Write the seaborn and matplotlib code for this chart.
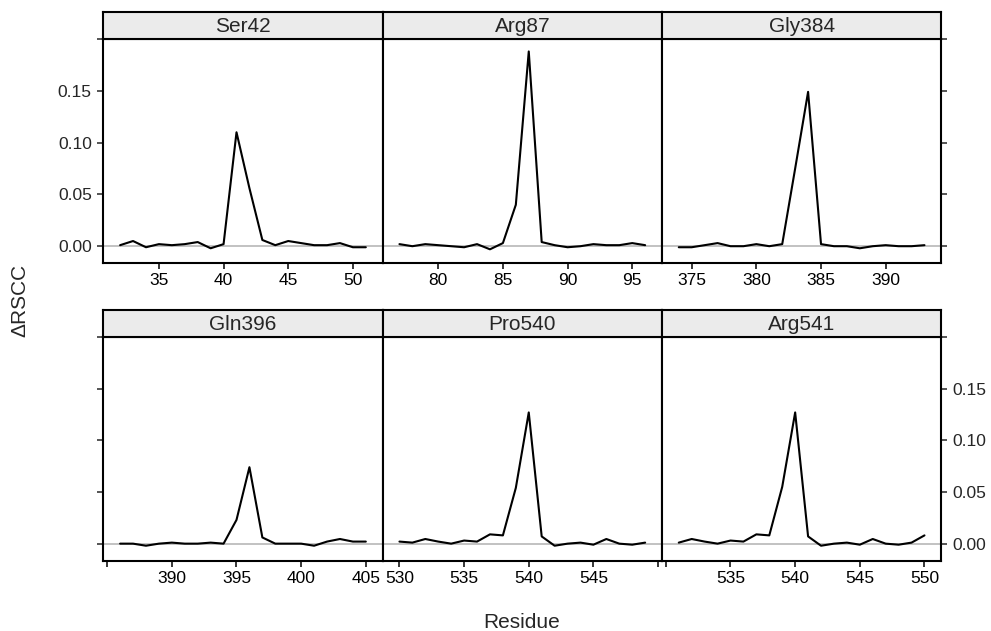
import numpy as np
import pandas as pd
import seaborn as sns
import matplotlib.pyplot as plt

panels = ["Ser42", "Arg87", "Gly384", "Gln396", "Pro540", "Arg541"]
first_residue = [32, 77, 374, 386, 530, 531]

ser42 = [0.001, 0.005, -0.001, 0.002, 0.001, 0.002, 0.004, -0.002, 0.002, 0.110,
         0.056, 0.006, 0.001, 0.005, 0.003, 0.001, 0.001, 0.003, -0.001, -0.001]
arg87 = [0.002, 0.000, 0.002, 0.001, 0.000, -0.001, 0.002, -0.003, 0.003, 0.040,
         0.188, 0.004, 0.001, -0.001, 0.000, 0.002, 0.001, 0.001, 0.003, 0.001]
gly384 = [-0.001, -0.001, 0.001, 0.003, 0.000, 0.000, 0.002, 0.000, 0.002, 0.075,
          0.149, 0.002, 0.000, 0.000, -0.002, 0.000, 0.001, 0.000, 0.000, 0.001]
gln396 = [0.000, 0.000, -0.002, 0.000, 0.001, 0.000, 0.000, 0.001, 0.000, 0.023,
          0.074, 0.006, 0.000, 0.000, 0.000, -0.002, 0.002, 0.0045, 0.002, 0.002]
pro540 = [0.002, 0.001, 0.0045, 0.002, 0.000, 0.003, 0.002, 0.009, 0.008, 0.054,
          0.127, 0.007, -0.002, 0.000, 0.001, -0.001, 0.0045, 0.000, -0.001, 0.001]
arg541 = [0.001, 0.0045, 0.002, 0.000, 0.003, 0.002, 0.009, 0.008, 0.055, 0.127,
          0.007, -0.002, 0.000, 0.001, -0.001, 0.0045, 0.000, -0.001, 0.001, 0.008]
values = [ser42, arg87, gly384, gln396, pro540, arg541]

x_ticks = [[35, 40, 45, 50], [80, 85, 90, 95], [375, 380, 385, 390],
           [385, 390, 395, 400, 405], [530, 535, 540, 545, 550],
           [530, 535, 540, 545, 550]]
x_labels = [["35", "40", "45", "50"], ["80", "85", "90", "95"],
            ["375", "380", "385", "390"], ["", "390", "395", "400", "405"],
            ["530", "535", "540", "545", ""], ["", "535", "540", "545", "550"]]
y_ticks = [0.00, 0.05, 0.10, 0.15, 0.20]
y_labels = ["0.00", "0.05", "0.10", "0.15", ""]

rows = []
for name, start, vals in zip(panels, first_residue, values):
    for i, v in enumerate(vals):
        rows.append((name, start + i, v))
df = pd.DataFrame(rows, columns=["panel", "Residue", "dRSCC"])

sns.set_style("white")
plt.rcParams["font.family"] = ["Liberation Sans", "DejaVu Sans"]

W, H = 991, 631
fig = plt.figure(figsize=(W / 100, H / 100), dpi=100)

left0 = 103.3
pw = 279.33
rows_px = [(38.7, 263.3, 12.0), (336.7, 560.7, 309.5)]  # panel top, panel bottom, strip top

for k, name in enumerate(panels):
    r, c = divmod(k, 3)
    top, bot, stop = rows_px[r]
    x0 = left0 + c * pw
    ax = fig.add_axes([x0 / W, 1 - bot / H, pw / W, (bot - top) / H])
    sub = df[df["panel"] == name]
    ax.axhline(0, color="#bdbdbd", lw=1.3, zorder=1)
    sns.lineplot(data=sub, x="Residue", y="dRSCC", color="black", lw=1.5, ax=ax, zorder=3)
    lo, hi = sub["Residue"].min(), sub["Residue"].max()
    ax.set_xlim(lo - 1.3, hi + 1.3)
    ax.set_ylim(-0.0165, 0.2003)
    ax.set_xlabel("")
    ax.set_ylabel("")
    for s in ax.spines.values():
        s.set_color("black")
        s.set_linewidth(1.5)
    ax.set_xticks(x_ticks[k])
    ax.set_xticklabels(x_labels[k])
    ax.tick_params(axis="x", direction="out", length=4.3, width=1.1, pad=3,
                   labelsize=12.5, colors="black", bottom=True)
    ax.set_yticks(y_ticks)
    if c == 0:
        ax.set_yticklabels(y_labels if r == 0 else [""] * 5)
        ax.tick_params(axis="y", direction="out", length=4.3, width=1.1, pad=4,
                       labelsize=12.5, left=True, right=False)
    elif c == 2:
        ax.yaxis.tick_right()
        ax.set_yticklabels(y_labels if r == 1 else [""] * 5)
        ax.tick_params(axis="y", direction="out", length=4.3, width=1.1, pad=4,
                       labelsize=12.5, left=False, right=True)
    else:
        ax.tick_params(axis="y", left=False, right=False, labelleft=False)

    # strip above the panel
    sx = fig.add_axes([x0 / W, 1 - top / H, pw / W, (top - stop) / H])
    sx.set_facecolor("#ebebeb")
    sx.set_xticks([])
    sx.set_yticks([])
    for s in sx.spines.values():
        s.set_color("black")
        s.set_linewidth(1.5)
    sx.text(0.5, 0.45, name, ha="center", va="center", fontsize=15,
            transform=sx.transAxes)

fig.text(20 / W, 1 - 300 / H, "\u0394RSCC", rotation=90, ha="center", va="center",
         fontsize=15)
fig.text(522 / W, 1 - 622 / H, "Residue", ha="center", va="center", fontsize=15)

fig.savefig("out.png", dpi=100)
